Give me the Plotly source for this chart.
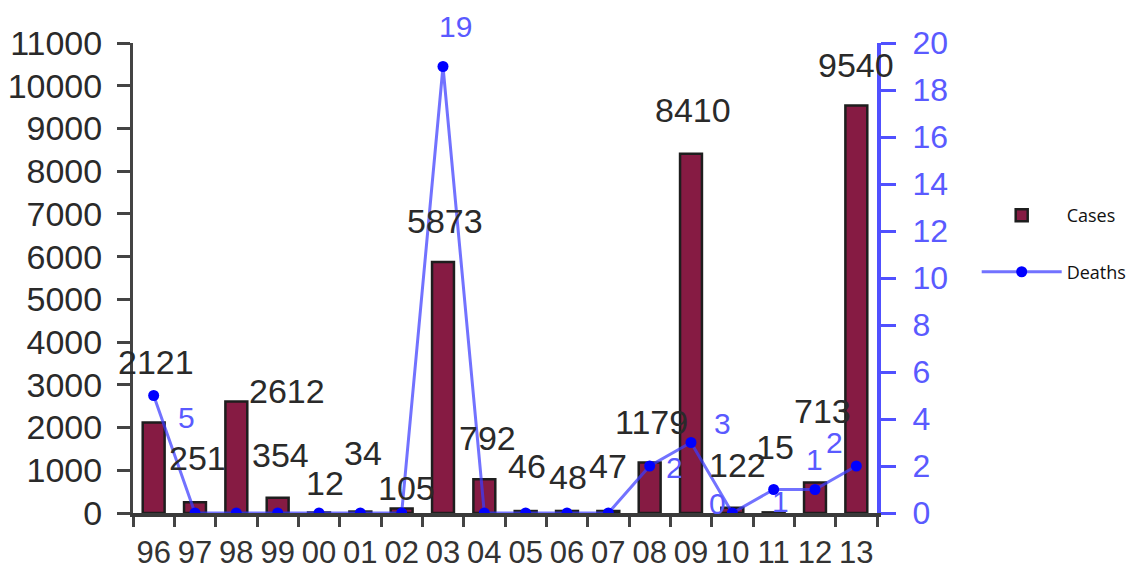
import plotly.graph_objects as go

years = ["96", "97", "98", "99", "00", "01", "02", "03", "04", "05", "06", "07",
         "08", "09", "10", "11", "12", "13"]
cases = [2121, 251, 2612, 354, 12, 34, 105, 5873, 792, 46, 48, 47, 1179, 8410, 122, 15, 713, 9540]
deaths = [5, 0, 0, 0, 0, 0, 0, 19, 0, 0, 0, 0, 2, 3, 0, 1, 1, 2]

# which death values get a printed label
death_label_idx = [0, 7, 12, 13, 14, 15, 16, 17]

# label offsets in pixels (layout only)
case_label_shift = [(2, 60), (2, 44), (51, 10), (3, 43), (6, 29), (3, 59), (5, 21), (2, 41),
                    (3, 41), (1, 45), (1, 34), (0, 45), (2, 41), (2, 44), (5, 43), (1, 65),
                    (7, 72), (0, 40)]
death_label_shift = {0: (33, -22), 7: (12, 40), 12: (25, -1), 13: (31, 19), 14: (-15, 10),
                     15: (7, -12), 16: (-1, 30), 17: (-22, 24)}

BAR = "#861b43"
BLUE_AX = "#5050ff"
FONT = "Liberation Sans, Arial, sans-serif"

fig = go.Figure()
fig.add_trace(go.Bar(
    x=years, y=cases, name="Cases", width=0.53,
    marker=dict(color=BAR, line=dict(color="#1e1e1e", width=2.5)),
    legendgroup="a", yaxis="y"))
fig.add_trace(go.Scatter(
    x=years, y=deaths, name="Deaths", mode="lines+markers",
    line=dict(color="rgba(60,60,255,0.72)", width=3),
    marker=dict(color="#0000ff", size=11),
    legendgroup="b", yaxis="y2"))

annotations = []
for i, v in enumerate(cases):
    dx, dy = case_label_shift[i]
    annotations.append(dict(x=i, y=v, xref="x", yref="y", text=str(v), showarrow=False,
                            xshift=dx, yshift=dy,
                            font=dict(family=FONT, size=34, color="#2a2a2a")))
for i in death_label_idx:
    dx, dy = death_label_shift[i]
    annotations.append(dict(x=i, y=deaths[i], xref="x", yref="y2", text=str(deaths[i]),
                            showarrow=False, xshift=dx, yshift=dy,
                            font=dict(family=FONT, size=30, color="#5a5aff")))

fig.update_layout(
    width=1139, height=571,
    margin=dict(l=133, r=262, t=43, b=58, autoexpand=False),
    paper_bgcolor="white", plot_bgcolor="white",
    bargap=0.47,
    showlegend=True,
    legend=dict(x=1.134, y=0.672, xanchor="left", yanchor="top",
                font=dict(family="Open Sans, Noto Sans, sans-serif", size=18, color="#111"),
                itemwidth=80, tracegroupgap=30, bgcolor="rgba(0,0,0,0)"),
    xaxis=dict(type="category", categoryorder="array", categoryarray=years,
               range=[-0.5, 17.5], showline=True, linecolor="#3a3a3a", linewidth=4,
               ticks="outside", ticklen=10, tickwidth=3, tickcolor="#444",
               tickson="boundaries", showgrid=False, zeroline=False, tickangle=0,
               automargin=False,
               tickfont=dict(family=FONT, size=31, color="#333"),
               ticklabelstandoff=9),
    xaxis2=dict(type="category", categoryorder="array", categoryarray=years,
                range=[-0.5, 17.5], overlaying="x", anchor="y", side="bottom",
                ticks="inside", ticklen=10, tickwidth=3, tickcolor="#444",
                tickson="boundaries", showticklabels=False, showline=False,
                showgrid=False, zeroline=False, matches="x", automargin=False),
    yaxis=dict(range=[0, 11000], dtick=1000, showline=True, linecolor="#444", linewidth=3,
               ticks="outside", ticklen=13, tickwidth=3, tickcolor="#444",
               showgrid=False, zeroline=False, tickformat="d", automargin=False,
               tickfont=dict(family=FONT, size=34, color="#2a2a2a"),
               ticklabelstandoff=8),
    yaxis3=dict(range=[0, 11000], dtick=1000, overlaying="y", side="left", anchor="x",
                ticks="inside", ticklen=13, tickwidth=3, tickcolor="#444", automargin=False,
                showticklabels=False, showline=False, showgrid=False, zeroline=False),
    yaxis2=dict(range=[0, 20], dtick=2, overlaying="y", side="right", anchor="x",
                showline=True, linecolor=BLUE_AX, linewidth=4, automargin=False,
                ticks="outside", ticklen=15, tickwidth=3, tickcolor=BLUE_AX,
                showgrid=False, zeroline=False,
                tickfont=dict(family=FONT, size=32, color="#5a5aff"),
                ticklabelstandoff=10),
    yaxis4=dict(range=[0, 20], dtick=2, overlaying="y", side="right", anchor="x",
                ticks="inside", ticklen=13, tickwidth=3, tickcolor=BLUE_AX, automargin=False,
                showticklabels=False, showline=False, showgrid=False, zeroline=False),
    annotations=annotations,
)

fig.write_html("out.html", config={"displayModeBar": False},
               post_script="document.body.style.margin='0';")
